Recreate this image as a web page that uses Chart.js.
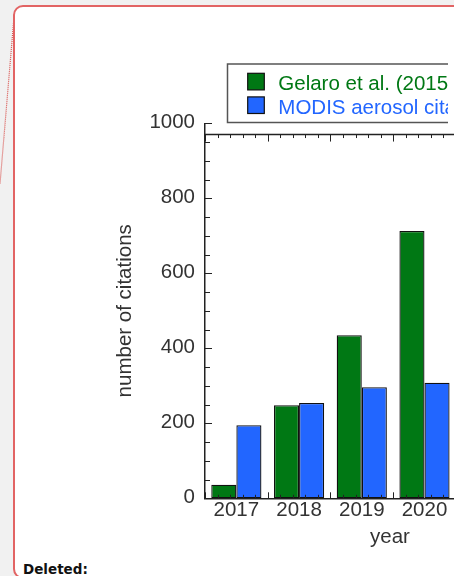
<!DOCTYPE html>
<html><head><meta charset="utf-8">
<script src="https://cdn.jsdelivr.net/npm/chart.js@4.4.1/dist/chart.umd.min.js"></script>
<style>
html,body{margin:0;padding:0;width:454px;height:576px;overflow:hidden;background:#f1f1f1;}
#lead{position:absolute;left:0;top:0;}
#box{position:absolute;left:13px;top:4.5px;width:700px;height:574px;background:#fff;border:2px solid #e26464;border-radius:10px;box-sizing:border-box;}
#deleted{position:absolute;left:23px;top:562.5px;font:bold 13.5px "DejaVu Sans";line-height:1;color:#111;}
#wrap{position:absolute;left:0;top:0;width:600px;height:576px;}
</style></head>
<body>
<svg id="lead" width="30" height="200"><line x1="14" y1="17" x2="0" y2="184" stroke="#d9534f" stroke-width="1.2" stroke-dasharray="1,1"/></svg>
<div id="box"></div>
<div id="deleted">Deleted:</div>
<div id="wrap"><canvas id="c" width="600" height="576"></canvas></div>
<script>
const years = [2017, 2018, 2019, 2020];
const gelaro = [36, 248, 435, 713];
const modis = [195, 254, 296, 308];
const seriesLabels = ['Gelaro et al. (2015) citations', 'MODIS aerosol citations'];
const yTickStep = 200;
const yMax = 1000;

const GREEN = '#007814';
const BLUE = '#2266ff';
const TXT = '#333';
const FONT = {family: '"Liberation Sans", Arial, sans-serif', size: 20.5};
const TOP_FRAME = 970;

const frame = {
  id: 'frame',
  afterDatasetsDraw(chart) {
    const {ctx, chartArea: a, scales: {x, y}} = chart;
    ctx.save();
    ctx.strokeStyle = '#222';
    ctx.lineWidth = 1;
    const topY = y.getPixelForValue(TOP_FRAME);
    ctx.beginPath();
    for (let k = 0; ; k++) {
      const v = x.min + k * 0.2;
      if (v > x.max + 1e-9) break;
      const px = Math.round(x.getPixelForValue(v)) + 0.5;
      const major = k % 5 === 0;
      ctx.moveTo(px, a.bottom); ctx.lineTo(px, a.bottom - (major ? 6 : 3.5));
      ctx.moveTo(px, topY); ctx.lineTo(px, topY + (major ? 7 : 3.5));
    }
    for (let v = 0; v <= y.max; v += 50) {
      const py = Math.round(y.getPixelForValue(v)) + 0.5;
      const major = v % 200 === 0;
      ctx.moveTo(a.left, py); ctx.lineTo(a.left + (major ? 7 : 5), py);
    }
    ctx.stroke();
    ctx.lineWidth = 1.5;
    ctx.beginPath(); ctx.moveTo(a.left, topY); ctx.lineTo(a.right, topY); ctx.stroke();
    ctx.restore();
  }
};

const legendBox = {
  id: 'legendBox',
  afterDraw(chart) {
    const {ctx} = chart;
    ctx.save();
    ctx.beginPath(); ctx.rect(0, 0, 448, chart.height); ctx.clip();
    ctx.strokeStyle = '#555'; ctx.lineWidth = 1.5;
    ctx.strokeRect(227.5, 64, 400, 58.5);
    ctx.font = '20.5px "Liberation Sans", Arial, sans-serif';
    ctx.textBaseline = 'alphabetic';
    chart.data.datasets.forEach((ds, i) => {
      const top = 73.3 + i * 23.6;
      ctx.fillStyle = ds.backgroundColor;
      ctx.fillRect(247.7, top, 16.6, 16.6);
      ctx.lineWidth = 1.2; ctx.strokeStyle = '#111';
      ctx.strokeRect(247.7, top, 16.6, 16.6);
      ctx.fillStyle = ds.backgroundColor;
      ctx.fillText(ds.label, 278.3, top + 16.7);
    });
    ctx.restore();
  }
};

new Chart(document.getElementById('c'), {
  type: 'bar',
  data: {
    datasets: [
      {label: seriesLabels[0], data: years.map((x, i) => ({x, y: gelaro[i]})), backgroundColor: GREEN},
      {label: seriesLabels[1], data: years.map((x, i) => ({x, y: modis[i]})), backgroundColor: BLUE}
    ]
  },
  options: {
    responsive: false,
    animation: false,
    events: [],
    layout: {padding: {left: 113, top: 123.3, right: 25, bottom: 26}},
    datasets: {bar: {categoryPercentage: 0.8, barPercentage: 1.0, borderWidth: 1.3, borderColor: '#111', borderSkipped: false}},
    plugins: {legend: {display: false}, tooltip: {enabled: false}},
    scales: {
      x: {
        type: 'linear', min: 2016.5, max: 2022.4, offset: false, bounds: 'data',
        grid: {display: false, drawTicks: false, tickLength: 0},
        border: {display: true, color: '#222', width: 1.5},
        afterBuildTicks: s => { s.ticks = years.map(v => ({value: v})); },
        afterFit: s => { s.height = 51.7; },
        ticks: {font: FONT, color: TXT, padding: 0, maxRotation: 0, callback: v => String(v)},
        title: {display: true, text: 'year', font: FONT, color: TXT, padding: 0}
      },
      y: {
        min: 0, max: yMax,
        grid: {display: false, drawTicks: false, tickLength: 0},
        border: {display: true, color: '#222', width: 1.5},
        afterFit: s => { s.width = 92; },
        ticks: {stepSize: yTickStep, font: FONT, color: TXT, padding: 10, labelOffset: -1, callback: v => String(v)},
        title: {display: true, text: 'number of citations', font: FONT, color: TXT, padding: 0}
      }
    }
  },
  plugins: [frame, legendBox]
});
</script>
</body></html>
